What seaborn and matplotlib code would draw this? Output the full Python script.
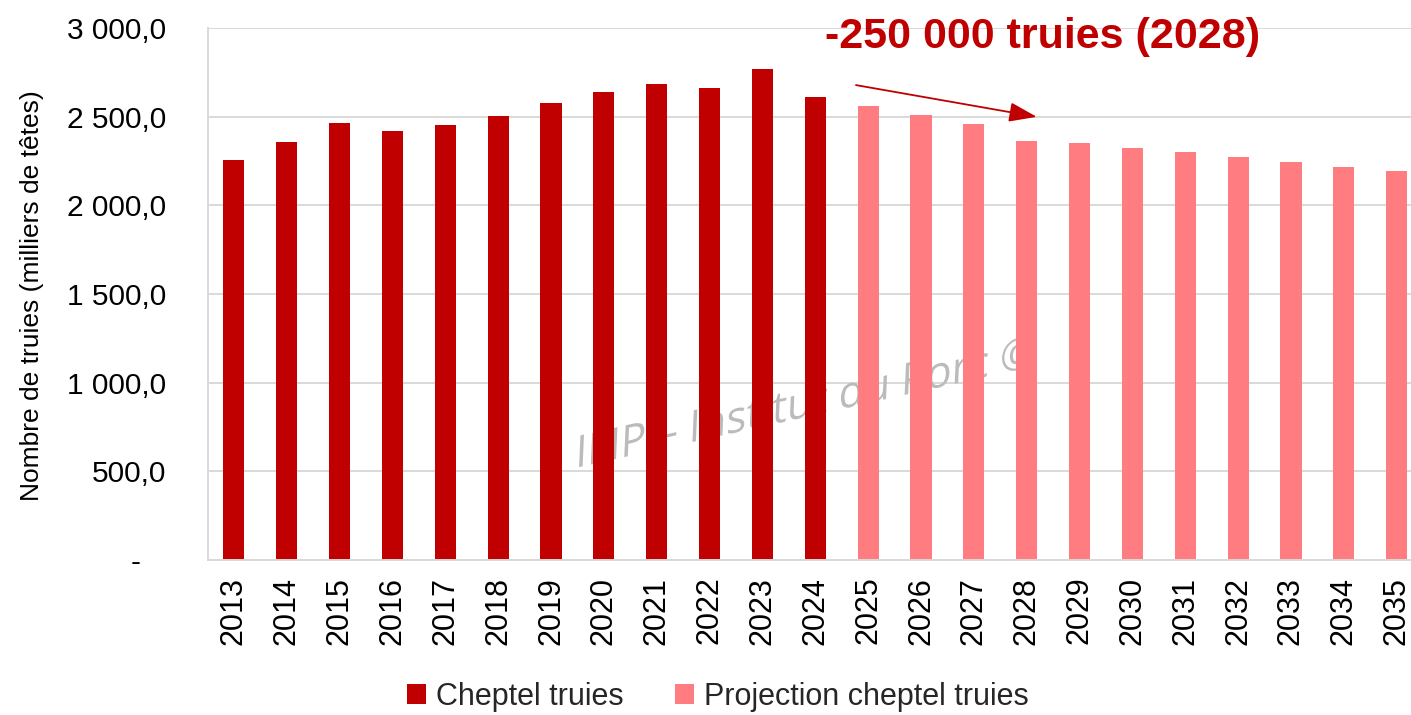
import matplotlib
matplotlib.use("Agg")
import matplotlib.pyplot as plt
from matplotlib.patches import Patch
from matplotlib.patheffects import AbstractPathEffect
from matplotlib.transforms import Affine2D
from matplotlib.ticker import FuncFormatter, MultipleLocator
import pandas as pd
import seaborn as sns

# Sow herd (thousand head): observed 2013-2024, projected 2025-2035
annees_obs = ["2013", "2014", "2015", "2016", "2017", "2018",
              "2019", "2020", "2021", "2022", "2023", "2024"]
cheptel = [2255, 2358, 2467, 2419, 2454, 2501, 2578, 2639, 2685, 2661, 2768, 2612]

annees_proj = ["2025", "2026", "2027", "2028", "2029", "2030",
               "2031", "2032", "2033", "2034", "2035"]
projection = [2560, 2509, 2458, 2362, 2353, 2324, 2298, 2272, 2244, 2217, 2191]

series = ["Cheptel truies", "Projection cheptel truies"]
couleurs = {"Cheptel truies": "#C00000", "Projection cheptel truies": "#FF7C80"}

annotation = "-250 000 truies (2028)"
filigrane = "IFIP \u2013 Institut du Porc \u00a9"
titre_y = "Nombre de truies (milliers de têtes)"

df = pd.DataFrame({
    "annee": annees_obs + annees_proj,
    "valeur": cheptel + projection,
    "serie": [series[0]] * len(cheptel) + [series[1]] * len(projection),
})
ordre = annees_obs + annees_proj

sns.set_theme(style="white")
plt.rcParams["font.family"] = ["Liberation Sans", "DejaVu Sans"]

W, H = 1411, 715
fig = plt.figure(figsize=(W / 100, H / 100), dpi=100)
ax = fig.add_axes([207.5 / W, (H - 560) / H, 1215.6 / W, 532 / H])

sns.barplot(data=df, x="annee", y="valeur", hue="serie", order=ordre,
            hue_order=series, palette=couleurs, dodge=False, width=0.4,
            saturation=1, linewidth=0, legend=False, ax=ax, zorder=2)

ax.set_xlim(-0.5, len(ordre) - 0.5)
ax.set_ylim(0, 3000)
ax.yaxis.set_major_locator(MultipleLocator(500))


def fmt_milliers(v, pos):
    if abs(v) < 1e-9:
        return "-   "
    s = f"{v:,.1f}"
    return s.replace(",", " ").replace(".", ",")


ax.yaxis.set_major_formatter(FuncFormatter(fmt_milliers))
ax.set_axisbelow(True)
ax.grid(axis="y", color="#D9D9D9", linewidth=1.4, zorder=0)
ax.grid(axis="x", visible=False)
ax.set_xlabel("")
ax.set_ylabel("")

for side in ("top", "right"):
    ax.spines[side].set_visible(False)
for side in ("left", "bottom"):
    ax.spines[side].set_color("#D9D9D9")
    ax.spines[side].set_linewidth(1.4)

ax.tick_params(axis="y", length=0, pad=30, labelsize=21.5, labelcolor="black")
ax.tick_params(axis="x", length=0, pad=12, labelsize=22, labelcolor="black",
               labelrotation=90)

fig.text(32 / W, 1 - 296 / H, titre_y, rotation=90, ha="center", va="center",
         fontsize=19, color="black")

# Headline figure and arrow towards the 2028 projection
fig.text(1043 / W, (H - 48) / H, annotation, ha="center", va="baseline",
         fontsize=31, fontweight="bold", color="#C00000")
ax.annotate("", xy=(15.19, 2499), xytext=(11.77, 2678),
            arrowprops=dict(arrowstyle="-|>,head_length=0.85,head_width=0.3",
                            color="#C00000", lw=1.3, mutation_scale=20,
                            shrinkA=0, shrinkB=0),
            zorder=5)


class Incline(AbstractPathEffect):
    """Skew then rotate glyph outlines around an anchor (display coords)."""

    def __init__(self, x0, y0, angle, skew):
        super().__init__()
        self._t = (Affine2D().translate(-x0, -y0).skew_deg(skew, 0)
                   .rotate_deg(angle).translate(x0, y0))

    def draw_path(self, renderer, gc, tpath, affine, rgbFace=None):
        renderer.draw_path(gc, tpath, affine + self._t, rgbFace)


# Watermark sits behind the bars
x0, y0 = 575, H - 468
wm = ax.text(x0 / W, y0 / H, filigrane, transform=fig.transFigure,
             ha="left", va="baseline", fontsize=31, color="#BBBBBB",
             family=["Open Sans", "DejaVu Sans"], zorder=1.5)
wm.set_path_effects([Incline(x0, y0, 12.5, 15)])

handles = [Patch(facecolor=couleurs[s], edgecolor="none", label=s) for s in series]
fig.legend(handles=handles, loc="center", bbox_to_anchor=(718 / W, 18 / H),
           ncol=2, frameon=False, fontsize=22, handlelength=0.62,
           handleheight=0.62, handletextpad=0.33, columnspacing=1.67,
           borderpad=0, borderaxespad=0)

fig.savefig("out.png", dpi=100)
